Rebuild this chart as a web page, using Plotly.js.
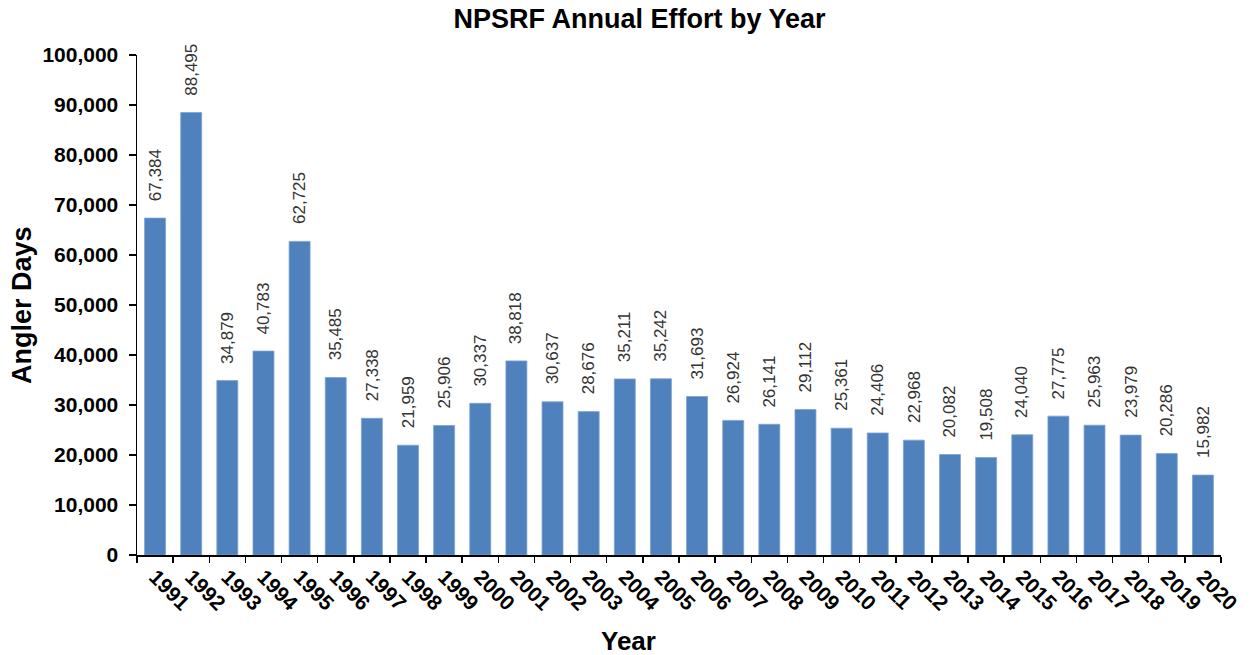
<!DOCTYPE html>
<html>
<head>
<meta charset="utf-8">
<script src="https://cdn.plot.ly/plotly-3.0.1.min.js"></script>
<style>html,body{margin:0;padding:0;background:#fff;}#chart{width:1250px;height:655px;}</style>
</head>
<body>
<div id="chart"></div>
<script>
const years = ["1991","1992","1993","1994","1995","1996","1997","1998","1999","2000","2001","2002","2003","2004","2005","2006","2007","2008","2009","2010","2011","2012","2013","2014","2015","2016","2017","2018","2019","2020"];
const anglerDays = [67384,88495,34879,40783,62725,35485,27338,21959,25906,30337,38818,30637,28676,35211,35242,31693,26924,26141,29112,25361,24406,22968,20082,19508,24040,27775,25963,23979,20286,15982];
const yTickVals = [0,10000,20000,30000,40000,50000,60000,70000,80000,90000,100000];
const yTickText = ["0","10,000","20,000","30,000","40,000","50,000","60,000","70,000","80,000","90,000","100,000"];

const font = "Arial, 'Liberation Sans', sans-serif";

function fmt(v) {
  return String(v).replace(/\B(?=(\d{3})+(?!\d))/g, ",");
}

const trace = {
  type: "bar",
  x: years,
  y: anglerDays,
  marker: {color: "#4F81BD", line: {color: "#7ba2d4", width: 0.8}},
  width: 0.58,
  hoverinfo: "x+y"
};

const valueLabels = years.map(function (yr, i) {
  return {
    x: i, y: anglerDays[i], xref: "x", yref: "y",
    text: fmt(anglerDays[i]),
    textangle: -90, showarrow: false,
    xanchor: "center", yanchor: "bottom", yshift: 15,
    font: {family: font, size: 17, color: "#333"}
  };
});

const layout = {
  width: 1250,
  height: 655,
  margin: {l: 137, r: 29, t: 55, b: 100},
  paper_bgcolor: "#fff",
  plot_bgcolor: "#fff",
  showlegend: false,
  title: {
    text: "<b>NPSRF Annual Effort by Year</b>",
    font: {family: font, size: 27, color: "#000"},
    x: 0.5116, xanchor: "center", xref: "container",
    y: 0.972, yanchor: "middle", yref: "container"
  },
  xaxis: {
    type: "category",
    showline: true, linecolor: "#000", linewidth: 1.5,
    ticks: "outside", ticklen: 6, tickcolor: "#000", tickwidth: 1.5,
    tickson: "boundaries",
    tickangle: 45,
    tickfont: {family: font, size: 21, color: "#000", weight: "bold"},
    showgrid: false, zeroline: false,
    range: [-0.5, 29.5]
  },
  yaxis: {
    range: [0, 100000],
    tickvals: yTickVals,
    ticktext: yTickText,
    showline: true, linecolor: "#000", linewidth: 1.5,
    ticks: "outside", ticklen: 7, tickcolor: "#000", tickwidth: 1.5,
    ticklabelstandoff: 6,
    tickfont: {family: font, size: 21, color: "#000", weight: "bold"},
    showgrid: false, zeroline: false
  },
  annotations: valueLabels.concat([
    {text: "<b>Angler Days</b>", xref: "paper", yref: "paper", x: -0.106, y: 0.5,
     xanchor: "center", yanchor: "middle", textangle: -90, showarrow: false,
     font: {family: font, size: 27, color: "#000"}},
    {text: "<b>Year</b>", xref: "paper", yref: "paper", x: 0.453, y: -0.172,
     xanchor: "center", yanchor: "middle", showarrow: false,
     font: {family: font, size: 26, color: "#000"}}
  ])
};

Plotly.newPlot("chart", [trace], layout, {displayModeBar: false, staticPlot: true});
</script>
</body>
</html>
